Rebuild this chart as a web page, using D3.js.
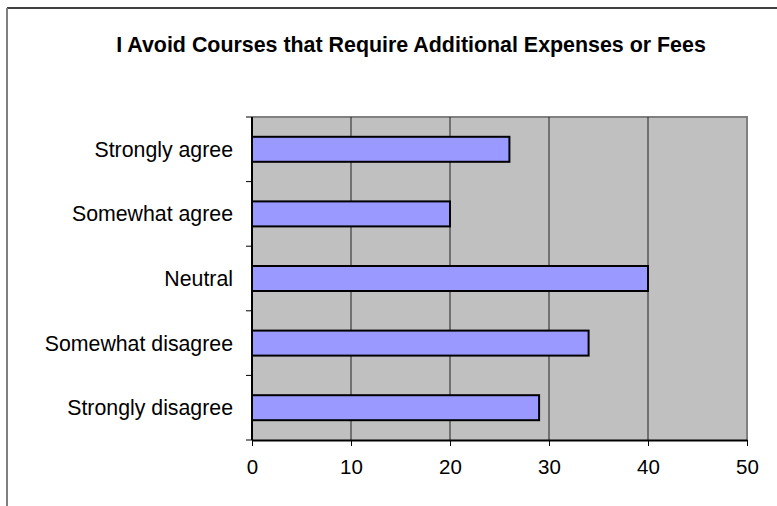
<!DOCTYPE html>
<html>
<head>
<meta charset="utf-8">
<script src="https://cdn.jsdelivr.net/npm/d3@7"></script>
<style>
  html, body { margin: 0; padding: 0; background: #fff; }
  svg { display: block; }
  text { font-family: "Liberation Sans", Arial, sans-serif; }
</style>
</head>
<body>
<svg id="chart" width="777" height="506"></svg>
<script>
const title = "I Avoid Courses that Require Additional Expenses or Fees";
const categories = ["Strongly agree", "Somewhat agree", "Neutral", "Somewhat disagree", "Strongly disagree"];
const values = [26, 20, 40, 34, 29];
const xTicks = [0, 10, 20, 30, 40, 50];

const svg = d3.select("#chart");
const W = 777, H = 506;
const plot = { left: 252, right: 747, top: 117, bottom: 440 };

// outer chart border (extends beyond the window at right and bottom)
svg.append("line").attr("x1", 7).attr("y1", 8).attr("x2", W + 5).attr("y2", 8)
  .attr("stroke", "#000").attr("stroke-width", 1.5);
svg.append("line").attr("x1", 7).attr("y1", 8).attr("x2", 7).attr("y2", H + 5)
  .attr("stroke", "#808080").attr("stroke-width", 2);

// title
svg.append("text")
  .attr("x", 411).attr("y", 52)
  .attr("text-anchor", "middle")
  .attr("font-size", 21.4).attr("font-weight", "bold")
  .attr("fill", "#000")
  .text(title);

const x = d3.scaleLinear().domain([0, 50]).range([plot.left, plot.right]);
const yBand = d3.scaleBand().domain(categories).range([plot.top, plot.bottom]);

// plot background
svg.append("rect")
  .attr("x", plot.left).attr("y", plot.top)
  .attr("width", plot.right - plot.left).attr("height", plot.bottom - plot.top)
  .attr("fill", "#C0C0C0");

// plot border top/right (gray)
svg.append("path")
  .attr("d", `M${plot.left},${plot.top}H${plot.right}V${plot.bottom}`)
  .attr("fill", "none").attr("stroke", "#808080").attr("stroke-width", 2);

// gridlines
svg.append("g").selectAll("line")
  .data(xTicks.filter(d => d > 0 && d < 50))
  .join("line")
  .attr("x1", d => x(d)).attr("x2", d => x(d))
  .attr("y1", plot.top).attr("y2", plot.bottom)
  .attr("stroke", "#222").attr("stroke-width", 1);

// bars
svg.append("g").selectAll("rect")
  .data(categories)
  .join("rect")
  .attr("x", x(0))
  .attr("y", d => yBand(d) + yBand.bandwidth() / 2 - 12.5)
  .attr("width", (d, i) => x(values[i]) - x(0))
  .attr("height", 25)
  .attr("fill", "#9999FF")
  .attr("stroke", "#000").attr("stroke-width", 2);

// x axis
const xAxis = d3.axisBottom(x).tickValues(xTicks).tickSize(6).tickPadding(13).tickSizeOuter(0);
const gx = svg.append("g").attr("transform", `translate(0,${plot.bottom})`).call(xAxis);
gx.select(".domain").attr("stroke", "#000").attr("stroke-width", 2);
gx.selectAll(".tick line").attr("stroke", "#000").attr("stroke-width", 1);
gx.selectAll(".tick text").attr("font-size", 20.5).attr("fill", "#000")
  .attr("font-family", "Liberation Sans, Arial, sans-serif");

// y axis: ticks at category boundaries
const boundaries = categories.map(c => yBand(c)).concat([plot.bottom]);
svg.append("line").attr("x1", plot.left).attr("x2", plot.left)
  .attr("y1", plot.top).attr("y2", plot.bottom)
  .attr("stroke", "#000").attr("stroke-width", 2);
svg.append("g").selectAll("line")
  .data(boundaries)
  .join("line")
  .attr("x1", plot.left - 6).attr("x2", plot.left)
  .attr("y1", d => d).attr("y2", d => d)
  .attr("stroke", "#000").attr("stroke-width", 1);

// category labels
svg.append("g").selectAll("text")
  .data(categories)
  .join("text")
  .attr("x", 233)
  .attr("y", d => yBand(d) + yBand.bandwidth() / 2)
  .attr("dy", "0.35em")
  .attr("text-anchor", "end")
  .attr("font-size", 21.3)
  .attr("fill", "#000")
  .text(d => d);
</script>
</body>
</html>
